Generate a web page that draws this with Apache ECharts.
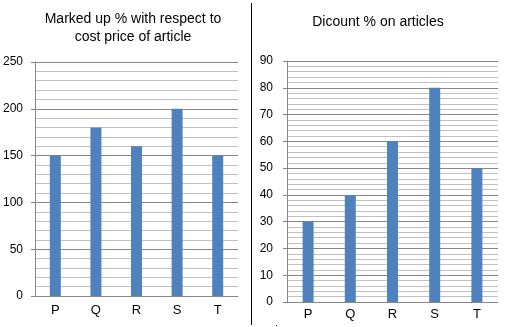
<!DOCTYPE html>
<html><head><meta charset="utf-8">
<script src="https://cdn.jsdelivr.net/npm/echarts@6/dist/echarts.min.js"></script>
<style>html,body{margin:0;padding:0;background:#fff}#c{width:525px;height:327px}</style>
</head><body><div id="c"></div>
<script>
const categories = ['P','Q','R','S','T'];
const markupValues = [150,180,160,200,150];
const discountValues = [30,40,60,80,50];
const leftTitle = 'Marked up % with respect to\ncost price of article';
const rightTitle = 'Dicount % on articles';

const FONT = 'Liberation Sans';
const chart = echarts.init(document.getElementById('c'), null, {renderer:'canvas'});
const major = '#878787', minor = '#c0c0c0';
function yAx(idx, max, interval, margin){
  return {gridIndex: idx, type:'value', min:0, max:max, interval:interval,
    axisLine:{show:true, lineStyle:{color:major, width:1}},
    axisTick:{show:true, length:4, lineStyle:{color:major}},
    axisLabel:{color:'#000', fontFamily:FONT, fontSize:12, margin:margin},
    splitLine:{show:true, lineStyle:{color:major, width:1}},
    minorTick:{show:false, splitNumber:5},
    minorSplitLine:{show:true, lineStyle:{color:minor, width:1}}
  };
}
function xAx(idx, margin){
  return {gridIndex: idx, type:'category', data:categories,
    axisLine:{show:true, lineStyle:{color:major, width:1}},
    axisTick:{show:false},
    axisLabel:{color:'#000', fontFamily:FONT, fontSize:13, margin:margin}
  };
}
chart.setOption({
  animation:false,
  backgroundColor:'#fff',
  title:[
    {text:leftTitle, left:128, top:5, textAlign:'center',
     textStyle:{fontFamily:FONT, fontSize:14, fontWeight:'normal', color:'#000', lineHeight:18}},
    {text:rightTitle, left:373, top:10, textAlign:'center',
     textStyle:{fontFamily:FONT, fontSize:14, fontWeight:'normal', color:'#000'}}
  ],
  grid:[
    {left:32, top:62, width:206, height:234},
    {left:287, top:61, width:211, height:241}
  ],
  xAxis:[xAx(0,8), xAx(1,6)],
  yAxis:[yAx(0,250,50,12), yAx(1,90,10,14)],
  series:[
    {type:'bar', xAxisIndex:0, yAxisIndex:0, data:markupValues, barWidth:11, itemStyle:{color:'#4f81bd'}},
    {type:'bar', xAxisIndex:1, yAxisIndex:1, data:discountValues, barWidth:11, itemStyle:{color:'#4f81bd'}}
  ],
  graphic:[
    {type:'line', shape:{x1:251.5, y1:3, x2:251.5, y2:325}, style:{stroke:'#000', lineWidth:1}},
    {type:'rect', shape:{x:276, y:325, width:1, height:1}, style:{fill:'#000'}}
  ]
});
</script></body></html>
